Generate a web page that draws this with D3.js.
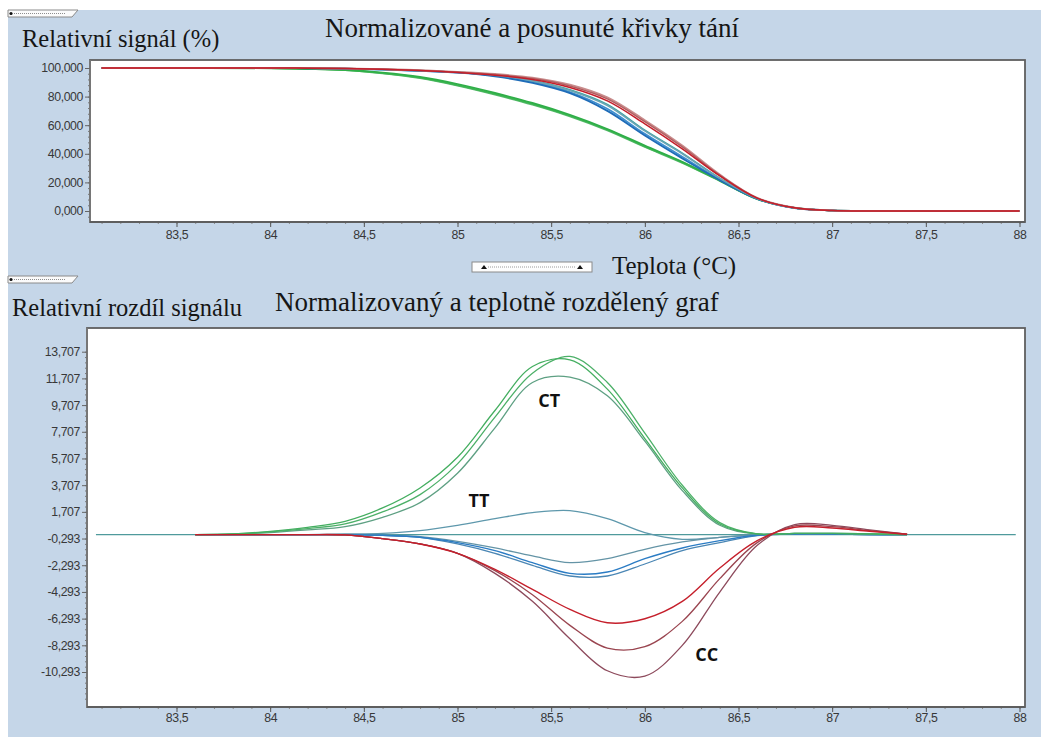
<!DOCTYPE html>
<html><head><meta charset="utf-8">
<script src="https://cdn.jsdelivr.net/npm/d3@7"></script>
<style>
html,body{margin:0;padding:0;background:#fff;}
svg{display:block;}
.tick text{font-family:"Liberation Sans",Arial,sans-serif;font-size:12.3px;fill:#383838;letter-spacing:-0.4px;}
.ttl{font-family:"Liberation Serif","Times New Roman",serif;fill:#161616;}
.gl{font-family:"Open Sans","Liberation Sans",sans-serif;font-weight:bold;font-size:18px;fill:#111;}
</style></head>
<body>
<script>
// ---------- DATA ----------
const xTicks = [83.5, 84, 84.5, 85, 85.5, 86, 86.5, 87, 87.5, 88];
const xTickLabels = ["83,5","84","84,5","85","85,5","86","86,5","87","87,5","88"];
const topYTicks = [0, 20, 40, 60, 80, 100];
const botYTicks = [-10.293, -8.293, -6.293, -4.293, -2.293, -0.293, 1.707, 3.707, 5.707, 7.707, 9.707, 11.707, 13.707];

// top panel: normalized melting curves (%)
const topT     = [83.1, 83.6, 84.0, 84.2, 84.4, 84.6, 84.8, 85.0, 85.2, 85.4, 85.6, 85.8, 86.0, 86.2, 86.4, 86.6, 86.8, 87.0, 87.2, 88.0];
const topRef   = [100, 100, 100, 99.9, 99.7, 99.2, 98.3, 97.0, 95.0, 91.3, 84.8, 74.5, 56.5, 40.5, 23.0, 8.7, 2.1, 0.4, 0, 0];
const topGreen1= [100, 100, 99.8, 99.4, 98.7, 96.8, 93.8, 88.8, 82.6, 75.6, 67.3, 57.4, 45.8, 34.5, 21.5, 8.5, 2.2, 0.4, 0, 0];
const topGreen2= [100, 100, 99.8, 99.3, 98.5, 96.4, 93.2, 88.1, 81.9, 74.9, 66.6, 56.8, 45.2, 34.0, 21.2, 8.4, 2.2, 0.4, 0, 0];
const topGreen3= [100, 100, 99.8, 99.3, 98.4, 96.1, 92.8, 87.6, 81.3, 74.3, 66.1, 56.3, 44.7, 33.6, 21.0, 8.3, 2.1, 0.4, 0, 0];
const topBlue1 = [100, 100, 100, 99.8, 99.5, 98.9, 98.0, 96.7, 94.2, 89.6, 82.4, 70.0, 52.8, 36.8, 21.6, 8.5, 2.1, 0.4, 0, 0];
const topBlue2 = [100, 100, 100, 99.8, 99.5, 98.9, 98.0, 96.9, 94.6, 90.3, 83.3, 71.5, 54.0, 38.0, 22.2, 8.6, 2.1, 0.4, 0, 0];
const topTeal  = [100, 100, 100, 99.9, 99.6, 99.0, 98.1, 97.0, 95.0, 91.0, 84.3, 73.8, 56.0, 40.0, 22.8, 8.7, 2.1, 0.4, 0, 0];
const topRed1  = [100, 100, 100, 99.9, 99.6, 99.1, 98.2, 96.9, 95.0, 92.0, 86.4, 77.0, 61.0, 43.5, 24.5, 9.0, 2.2, 0.4, 0, 0];
const topRed2  = [100, 100, 100, 99.9, 99.6, 99.1, 98.3, 97.1, 95.4, 92.6, 87.4, 78.4, 62.5, 44.8, 25.0, 9.0, 2.2, 0.4, 0, 0];
const topRed3  = [100, 100, 100, 99.9, 99.7, 99.2, 98.5, 97.3, 95.8, 93.3, 88.4, 79.5, 63.5, 45.8, 25.5, 9.2, 2.3, 0.4, 0, 0];

// bottom panel: difference curves
const botRefT  = [83.07, 87.98];
const botRefV  = [0, 0];
const botT     = [83.6, 83.8, 84.0, 84.2, 84.4, 84.6, 84.8, 85.0, 85.2, 85.4, 85.6, 85.8, 86.0, 86.2, 86.4, 86.6, 86.8, 87.0, 87.2, 87.4];
const ctA      = [0, 0.05, 0.25, 0.55, 1.0, 2.0, 3.5, 5.8, 9.3, 12.6, 13.1, 10.9, 7.2, 3.5, 0.8, 0.05, 0.1, 0.1, 0.05, 0];
const ctB      = [0, 0.05, 0.2, 0.45, 0.8, 1.7, 3.0, 5.3, 8.8, 12.1, 13.35, 11.4, 7.6, 3.7, 0.9, 0.05, 0.1, 0.1, 0.05, 0];
const ctC      = [0, 0.03, 0.15, 0.35, 0.6, 1.3, 2.4, 4.6, 8.0, 11.4, 11.8, 10.4, 7.0, 3.3, 0.7, 0.05, 0.1, 0.1, 0.05, 0];
const tt       = [0, 0, 0, 0, 0.05, 0.1, 0.3, 0.7, 1.2, 1.65, 1.8, 1.2, 0.15, -0.35, -0.2, -0.02, 0.05, 0.05, 0, 0];
const ttB1     = [0, 0, 0, 0, 0, -0.05, -0.15, -0.5, -1.0, -1.6, -2.1, -1.8, -1.1, -0.55, -0.2, -0.02, 0.05, 0.05, 0, 0];
const ttB2     = [0, 0, 0, 0, 0, -0.05, -0.2, -0.6, -1.2, -2.1, -2.9, -2.8, -1.8, -1.0, -0.45, -0.05, 0.05, 0.05, 0, 0];
const ttB3     = [0, 0, 0, 0, 0, -0.05, -0.2, -0.7, -1.4, -2.3, -3.1, -3.1, -2.2, -1.2, -0.6, -0.08, 0.05, 0.05, 0, 0];
const cc1      = [0, 0, 0, 0, -0.02, -0.3, -0.7, -1.4, -2.6, -4.1, -5.6, -6.6, -6.3, -5.0, -2.5, -0.45, 0.55, 0.5, 0.25, 0.03];
const cc2      = [0, 0, 0, 0, -0.02, -0.3, -0.7, -1.4, -2.7, -4.5, -6.8, -8.5, -8.4, -6.5, -3.3, -0.6, 0.65, 0.6, 0.3, 0.03];
const cc3      = [0, 0, 0, 0, -0.02, -0.3, -0.7, -1.4, -2.9, -5.0, -7.8, -10.2, -10.6, -8.3, -4.3, -0.8, 0.75, 0.7, 0.35, 0.03];

// ---------- LAYOUT ----------
const W = 1041, H = 740;
const svg = d3.select("body").append("svg").attr("width", W).attr("height", H);
svg.append("rect").attr("x",0).attr("y",0).attr("width",W).attr("height",H).attr("fill","#fff");
svg.append("rect").attr("x",8).attr("y",10).attr("width",W-8).attr("height",727).attr("fill","#c5d6e8");

const loc = d3.formatLocale({decimal:",", thousands:".", grouping:[3], currency:["",""], minus:"-"});
const f3 = loc.format(".3f");

const x = d3.scaleLinear().domain([83.5, 88]).range([176.5, 1019.5]);

const P1 = {l:90, t:60, r:1025, b:222};
const P2 = {l:87, t:328, r:1025, b:707};
const yTop = d3.scaleLinear().domain([0, 100]).range([211, 68]);
const yBot = d3.scaleLinear().domain([-10.293, 13.707]).range([672, 351.7]);

function tab(y0){
  const g = svg.append("g");
  g.append("path").attr("d",`M8,${y0} L78,${y0} L72,${y0+7} L8,${y0+7} Z`).attr("fill","#fbfbfb").attr("stroke","#8a8a8a").attr("stroke-width",1);
  g.append("line").attr("x1",14).attr("x2",66).attr("y1",y0+3.5).attr("y2",y0+3.5).attr("stroke","#8d8d8d").attr("stroke-dasharray","1,1");
  g.append("circle").attr("cx",11).attr("cy",y0+3.5).attr("r",1.6).attr("fill","#111");
}
tab(10); tab(276);

function panel(P, y, yTicks, id){
  svg.append("clipPath").attr("id",id).append("rect")
    .attr("x",P.l).attr("y",P.t).attr("width",P.r-P.l).attr("height",P.b-P.t);
  svg.append("rect").attr("x",P.l).attr("y",P.t).attr("width",P.r-P.l).attr("height",P.b-P.t)
    .attr("fill","#fff").attr("stroke","#5f5f5f").attr("stroke-width",1.8);
  const [d0,d1] = y.domain();
  const step = yTicks[1]-yTicks[0];
  const minor = [];
  for(let v=yTicks[0]-step; v<=d1+1e-9; v+=step/5){ if(v>=y.invert(P.b) && v<=y.invert(P.t)) minor.push(v); }
  svg.append("g").attr("transform",`translate(${P.l},0)`)
    .call(d3.axisLeft(y).tickValues(minor).tickSize(2).tickFormat(""))
    .call(g=>{g.select(".domain").remove(); g.selectAll("line").attr("stroke","#7a7a7a");});
  svg.append("g").attr("transform",`translate(${P.l},0)`)
    .call(d3.axisLeft(y).tickValues(yTicks).tickSize(5).tickPadding(2).tickFormat(f3))
    .call(g=>{g.select(".domain").attr("d",`M0,${P.t}V${P.b}`).attr("stroke","#767676").attr("stroke-width",2);
              g.selectAll(".tick line").attr("stroke","#666");});
  const xm = [];
  for(let v=83.1; v<=88.0001; v+=0.1){ if(x(v)>=P.l && x(v)<=P.r) xm.push(+v.toFixed(2)); }
  svg.append("g").attr("transform",`translate(0,${P.b})`)
    .call(d3.axisBottom(x).tickValues(xm).tickSize(2).tickFormat(""))
    .call(g=>{g.select(".domain").remove(); g.selectAll("line").attr("stroke","#8a8a8a");});
  svg.append("g").attr("transform",`translate(0,${P.b})`)
    .call(d3.axisBottom(x).tickValues(xTicks).tickSize(5).tickPadding(id==="c1"?3:1).tickFormat((d,i)=>xTickLabels[i]))
    .call(g=>{g.select(".domain").attr("d",`M${P.l},0H${P.r}`).attr("stroke","#5e5e5e").attr("stroke-width",2.2);
              g.selectAll(".tick line").attr("stroke","#555");});
}
panel(P1, yTop, topYTicks, "c1");
panel(P2, yBot, botYTicks, "c2");

function drawSeries(T, vals, y, color, clip, w){
  const line = d3.line().x((d,i)=>x(T[i])).y(d=>y(d)).curve(d3.curveCatmullRom.alpha(0.5));
  svg.append("path").datum(vals).attr("d",line).attr("fill","none")
    .attr("stroke",color).attr("stroke-width",w||1.3).attr("clip-path",`url(#${clip})`)
    .attr("stroke-linejoin","round");
}

// top curves
[
  [topRef,"#3fa3a0",1.4],[topGreen3,"#5ab870",1.6],[topGreen2,"#3cb650",1.8],[topGreen1,"#2fae48",1.6],
  [topBlue2,"#3d8fd0",1.6],[topBlue1,"#1f6cb8",1.8],[topTeal,"#6aa5b5",1.6],
  [topRed3,"#c98d8d",1.8],[topRed2,"#b25e60",1.6],[topRed1,"#c41e2a",1.5]
].forEach(s=>drawSeries(topT, s[0], yTop, s[1], "c1", s[2]));

// bottom curves
drawSeries(botRefT, botRefV, yBot, "#4f9a9c", "c2", 1.3);
[
  [tt,"#5e98ac",1.3],[ttB1,"#6494a6",1.3],[ttB3,"#4a86b4",1.3],[ttB2,"#2b7cc4",1.4],
  [ctC,"#5ea083",1.3],[ctB,"#4cb068",1.3],[ctA,"#44ae60",1.3],
  [cc3,"#8d4a5c",1.3],[cc2,"#9a4550",1.3],[cc1,"#c51f2b",1.4]
].forEach(s=>drawSeries(botT, s[0], yBot, s[1], "c2", s[2]));

// texts
svg.append("text").attr("class","ttl").attr("x",22).attr("y",47).attr("font-size",24.5).text("Relativní signál (%)");
svg.append("text").attr("class","ttl").attr("x",325).attr("y",37).attr("font-size",27).text("Normalizované a posunuté křivky tání");
svg.append("text").attr("class","ttl").attr("x",612).attr("y",274).attr("font-size",25).text("Teplota (°C)");
svg.append("text").attr("class","ttl").attr("x",12).attr("y",316).attr("font-size",24.5).text("Relativní rozdíl signálu");
svg.append("text").attr("class","ttl").attr("x",275).attr("y",311).attr("font-size",27).text("Normalizovaný a teplotně rozdělený graf");

svg.append("text").attr("class","gl").attr("x",x(85.49)).attr("y",yBot(9.6)).attr("text-anchor","middle").text("CT");
svg.append("text").attr("class","gl").attr("x",x(85.115)).attr("y",yBot(2.1)).attr("text-anchor","middle").text("TT");
svg.append("text").attr("class","gl").attr("x",x(86.33)).attr("y",yBot(-9.5)).attr("text-anchor","middle").text("CC");

// scroll widget
const sc = svg.append("g");
sc.append("rect").attr("x",472).attr("y",262).attr("width",120).attr("height",10).attr("fill","#fdfdfd").attr("stroke","#8a8a8a");
sc.append("line").attr("x1",488).attr("x2",576).attr("y1",267).attr("y2",267).attr("stroke","#9a9a9a").attr("stroke-dasharray","1,1");
[484,580].forEach(cx=>sc.append("path").attr("d",`M${cx-3},269 L${cx+3},269 L${cx},265 Z`).attr("fill","#111"));
</script>
</body></html>
